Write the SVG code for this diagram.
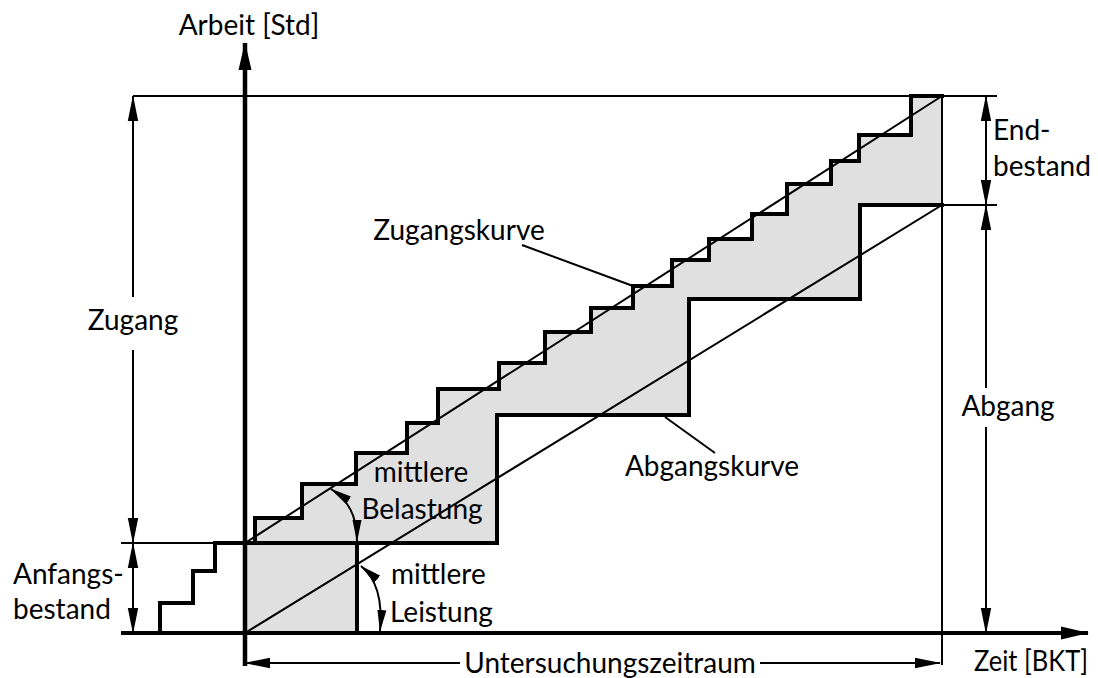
<svg xmlns="http://www.w3.org/2000/svg" width="1098" height="678" viewBox="0 0 1098 678">
  <defs>
    <!-- filled arrowhead, tip at path end, absolute size -->
    <marker id="arr" markerUnits="userSpaceOnUse" markerWidth="26" markerHeight="12" refX="25" refY="6" orient="auto-start-reverse" viewBox="0 0 26 12">
      <path d="M0,0.8 L26,6 L0,11.2 z" fill="#000"/>
    </marker>
    <marker id="arrAxis" markerUnits="userSpaceOnUse" markerWidth="28" markerHeight="14" refX="27" refY="7" orient="auto-start-reverse" viewBox="0 0 28 14">
      <path d="M0,0.5 L28,7 L0,13.5 z" fill="#000"/>
    </marker>
    <marker id="arrSmall" markerUnits="userSpaceOnUse" markerWidth="22" markerHeight="10" refX="21" refY="5" orient="auto-start-reverse" viewBox="0 0 22 10">
      <path d="M0,0.5 L22,5 L0,9.5 z" fill="#000"/>
    </marker>
    <style>
      .thin { fill: none; stroke: #000; stroke-width: 2; }
      .thick { fill: none; stroke: #000; stroke-width: 4; stroke-linejoin: miter; stroke-linecap: square; }
      .dim { fill: none; stroke: #000; stroke-width: 2; marker-end: url(#arr); }
      .lbl { font-family: Lato, "Liberation Sans", sans-serif; font-size: 28px; fill: #000; }
    </style>
  </defs>

  <!-- area between inflow and outflow curve -->
  <g id="stock-area">
    <polygon fill="#e0e0e0" points="245,633 245,543 255,543 255,518 302,518 302,484 356,484 356,453 407,453 407,423 438,423 438,389 499,389 499,363 545,363 545,332 591,332 591,308 633,308 633,286 672,286 672,260 709,260 709,239 752,239 752,214 787,214 787,184 831,184 831,161 859,161 859,135 911,135 911,96 942,96 942,205 860,205 860,299 689,299 689,415 497,415 497,543 357,543 357,633"/>
  </g>

  <!-- reference lines -->
  <g id="guides">
    <line class="thin" x1="133" y1="96" x2="997" y2="96"/>
    <line class="thin" x1="121" y1="543" x2="215" y2="543"/>
    <line class="thin" x1="942" y1="205" x2="997" y2="205"/>
    <line class="thin" x1="942" y1="96" x2="942" y2="665"/>
    <!-- mean load and mean output -->
    <line class="thin" x1="245" y1="543" x2="942" y2="96"/>
    <line class="thin" x1="245" y1="633" x2="942" y2="205"/>
  </g>

  <!-- inflow curve -->
  <g id="zugangskurve">
    <path class="thick" d="M160,633 V603 H193 V571 H215 V543 H255 V518 H302 V484 H356 V453 H407 V423 H438 V389 H499 V363 H545 V332 H591 V308 H633 V286 H672 V260 H709 V239 H752 V214 H787 V184 H831 V161 H859 V135 H911 V96 H942"/>
  </g>

  <!-- outflow curve -->
  <g id="abgangskurve">
    <path class="thick" d="M245,543 H497 V415 H689 V299 H860 V205 H942"/>
    <line class="thick" x1="357" y1="543" x2="357" y2="633"/>
  </g>

  <!-- axes -->
  <g id="axes">
    <line x1="245" y1="666" x2="245" y2="43" stroke="#000" stroke-width="4.5" marker-end="url(#arrAxis)"/>
    <line x1="121" y1="633" x2="1088" y2="633" stroke="#000" stroke-width="4" marker-end="url(#arrAxis)"/>
  </g>

  <!-- dimension arrows -->
  <g id="dimensions">
    <line class="dim" x1="133" y1="297" x2="133" y2="96"/>
    <line class="dim" x1="133" y1="350" x2="133" y2="543"/>
    <line class="dim" x1="133" y1="590" x2="133" y2="543"/>
    <line class="dim" x1="133" y1="590" x2="133" y2="633"/>
    <line class="dim" x1="986" y1="150" x2="986" y2="96"/>
    <line class="dim" x1="986" y1="150" x2="986" y2="205"/>
    <line class="dim" x1="986" y1="388" x2="986" y2="205"/>
    <line class="dim" x1="986" y1="427" x2="986" y2="633"/>
    <line class="dim" x1="460" y1="663" x2="245" y2="663"/>
    <line class="dim" x1="760" y1="663" x2="940" y2="663"/>
  </g>

  <!-- angle arcs and leaders -->
  <g id="connectors">
    <path class="thin" d="M331,489 C348,500 357,515 357,541" marker-start="url(#arrSmall)" marker-end="url(#arrSmall)"/>
    <path class="thin" d="M361,566 C376,578 383,598 380,631" marker-start="url(#arrSmall)" marker-end="url(#arrSmall)"/>
    <line class="thin" x1="522" y1="245" x2="633" y2="286"/>
    <line class="thin" x1="665" y1="417" x2="715" y2="453"/>
  </g>

  <!-- labels -->
  <g id="labels">
    <text class="lbl" x="249" y="35" text-anchor="middle">Arbeit [Std]</text>
    <text class="lbl" x="133" y="330" text-anchor="middle">Zugang</text>
    <text class="lbl" x="13" y="584">Anfangs-</text>
    <text class="lbl" x="13" y="619">bestand</text>
    <text class="lbl" x="993" y="140">End-</text>
    <text class="lbl" x="993" y="176">bestand</text>
    <text class="lbl" x="1008" y="416" text-anchor="middle">Abgang</text>
    <text class="lbl" x="459" y="240" text-anchor="middle">Zugangskurve</text>
    <text class="lbl" x="712" y="476" text-anchor="middle">Abgangskurve</text>
    <text class="lbl" x="421" y="482" text-anchor="middle">mittlere</text>
    <text class="lbl" x="422" y="519" text-anchor="middle">Belastung</text>
    <text class="lbl" x="391" y="584">mittlere</text>
    <text class="lbl" x="390" y="622">Leistung</text>
    <text class="lbl" x="610" y="673" text-anchor="middle">Untersuchungszeitraum</text>
    <text class="lbl" x="974" y="671" textLength="114" lengthAdjust="spacingAndGlyphs">Zeit [BKT]</text>
  </g>
</svg>
